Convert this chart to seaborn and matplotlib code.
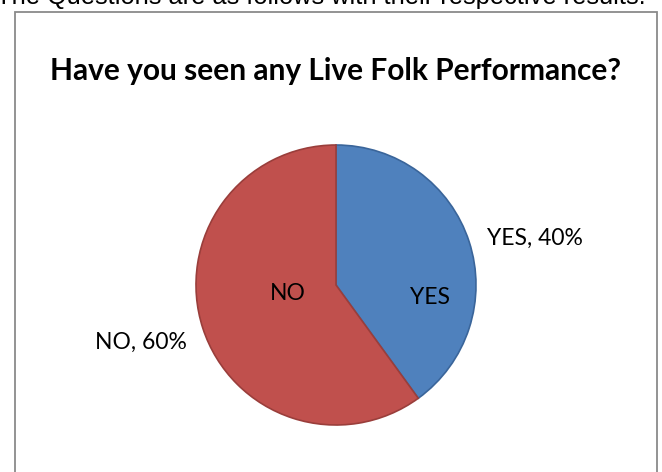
import matplotlib
matplotlib.use("Agg")
import matplotlib.pyplot as plt
import seaborn as sns
import numpy as np
from matplotlib.patches import Rectangle

# Survey answers and their shares (%)
categories = ["YES", "NO"]
shares = [40, 60]
colors = ["#4F81BD", "#C0504D"]
edge_colors = ["#3A659A", "#9A3E3B"]

title = "Have you seen any Live Folk Performance?"
caption = "The Questions are as follows with their respective results."

sns.set_theme(style="white")
plt.rcParams["font.family"] = ["Lato", "DejaVu Sans"]

W, H, DPI = 662, 472, 100
fig = plt.figure(figsize=(W / DPI, H / DPI), dpi=DPI)
fig.patch.set_facecolor("white")

# chart frame
fig.add_artist(Rectangle((15 / W, -0.05), (657 - 15) / W, (H - 12) / H + 0.05,
                         transform=fig.transFigure, fill=False,
                         edgecolor="#8A8A8A", linewidth=1.3))

# running caption above the frame
fig.text(321 / W, (H - 4) / H, caption, ha="center", va="baseline",
         fontsize=18.3, family=["Liberation Sans", "DejaVu Sans"], color="black")

# chart title
fig.text(336 / W, (H - 80) / H, title, ha="center", va="baseline",
         fontsize=21.5, fontweight="bold", color="black")

# pie axes: radius 140 px centred at (336, 285) from top
R = 140
cx, cy = 336, 285
side = 2.5 * R
ax = fig.add_axes([(cx - side / 2) / W, (H - cy - side / 2) / H, side / W, side / H])
wedges, _ = ax.pie(shares, colors=colors, startangle=90, counterclock=False,
                   radius=1.0, wedgeprops=dict(linewidth=1.2))
for w, ec in zip(wedges, edge_colors):
    w.set_edgecolor(ec)
ax.set_aspect("equal")

# labels inside the slices
inner_pos = {"YES": (0.67, -0.09), "NO": (-0.345, -0.06)}
for cat in categories:
    x, y = inner_pos[cat]
    ax.text(x, y, cat, ha="center", va="center", fontsize=16.5, color="black")

# labels outside the slices
outer_pos = {"YES": (1.42, 0.335), "NO": (-1.39, -0.41)}
for cat, val in zip(categories, shares):
    x, y = outer_pos[cat]
    ax.text(x, y, f"{cat}, {val}%", ha="center", va="center", fontsize=16.5,
            color="black")

fig.savefig("out.png", dpi=DPI, facecolor="white")
